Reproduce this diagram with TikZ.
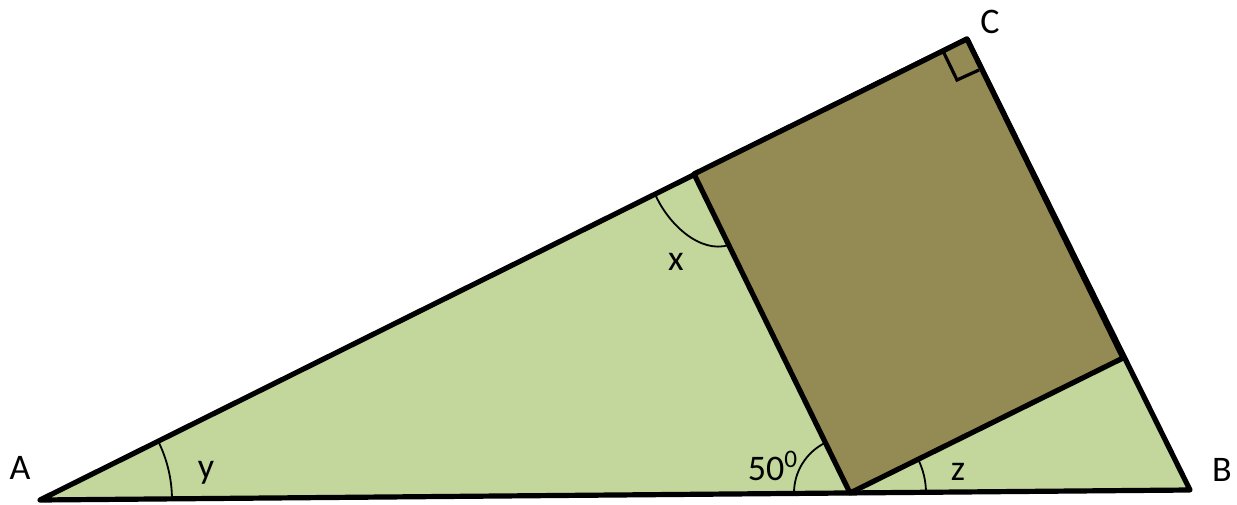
\documentclass[tikz,border=0pt]{standalone}
\usepackage{fontspec}
\setmainfont{Carlito}
\usepackage{xcolor}
\usepackage{tikz}
\definecolor{TriGreen}{HTML}{C3D69B}
\definecolor{SqOlive}{HTML}{948A54}
\begin{document}
\begin{tikzpicture}[x=0.5pt,y=0.5pt,
  edge/.style={line width=2.6pt,line join=round},
  anglearc/.style={line width=0.9pt},
  lbl/.style={inner sep=0pt,font=\fontsize{18}{20}\selectfont}]
\path[use as bounding box] (0,0) rectangle (1237,504);
\coordinate (A) at (40,4);
\coordinate (B) at (1190,14);
\coordinate (C) at (967,465);
\coordinate (P) at (850,11);
\coordinate (Q) at (694,330);
\coordinate (R) at (1123,146);
% triangle and inner rectangle
\filldraw[fill=TriGreen,edge] (A) -- (B) -- (C) -- cycle;
\filldraw[fill=SqOlive,edge] (P) -- (Q) -- (C) -- (R) -- cycle;
% right angle at C
\coordinate (c1) at (943,453);
\coordinate (c2) at (957,424);
\coordinate (c3) at (979,434);
\draw[line width=1.6pt] (c1) -- (c2) -- (c3);
% angle marks
\draw[anglearc] (A) ++(0.5:132) arc[start angle=0.5,end angle=26.4,radius=132];
\draw[anglearc] (P) ++(116.1:56) arc[start angle=116.1,end angle=180.5,radius=56];
\draw[anglearc] (P) ++(0.5:76) arc[start angle=0.5,end angle=26.3,radius=76];
\coordinate (x1) at (655,310);
\coordinate (x2) at (729,259);
\draw[anglearc] (x1) .. controls (668,280) and (700,250) .. (x2);
% labels
\node[lbl] (lA) at (20,36) {A};
\node[lbl] (lB) at (1222,34) {B};
\node[lbl] (lC) at (990,482) {C};
\node[lbl] (ly) at (206,31) {y};
\node[lbl] (lx) at (676,242) {x};
\node[lbl] (lz) at (958,32) {z};
\node[lbl] (l50) at (773,38) {50\textsuperscript{0}};
\end{tikzpicture}
\end{document}
